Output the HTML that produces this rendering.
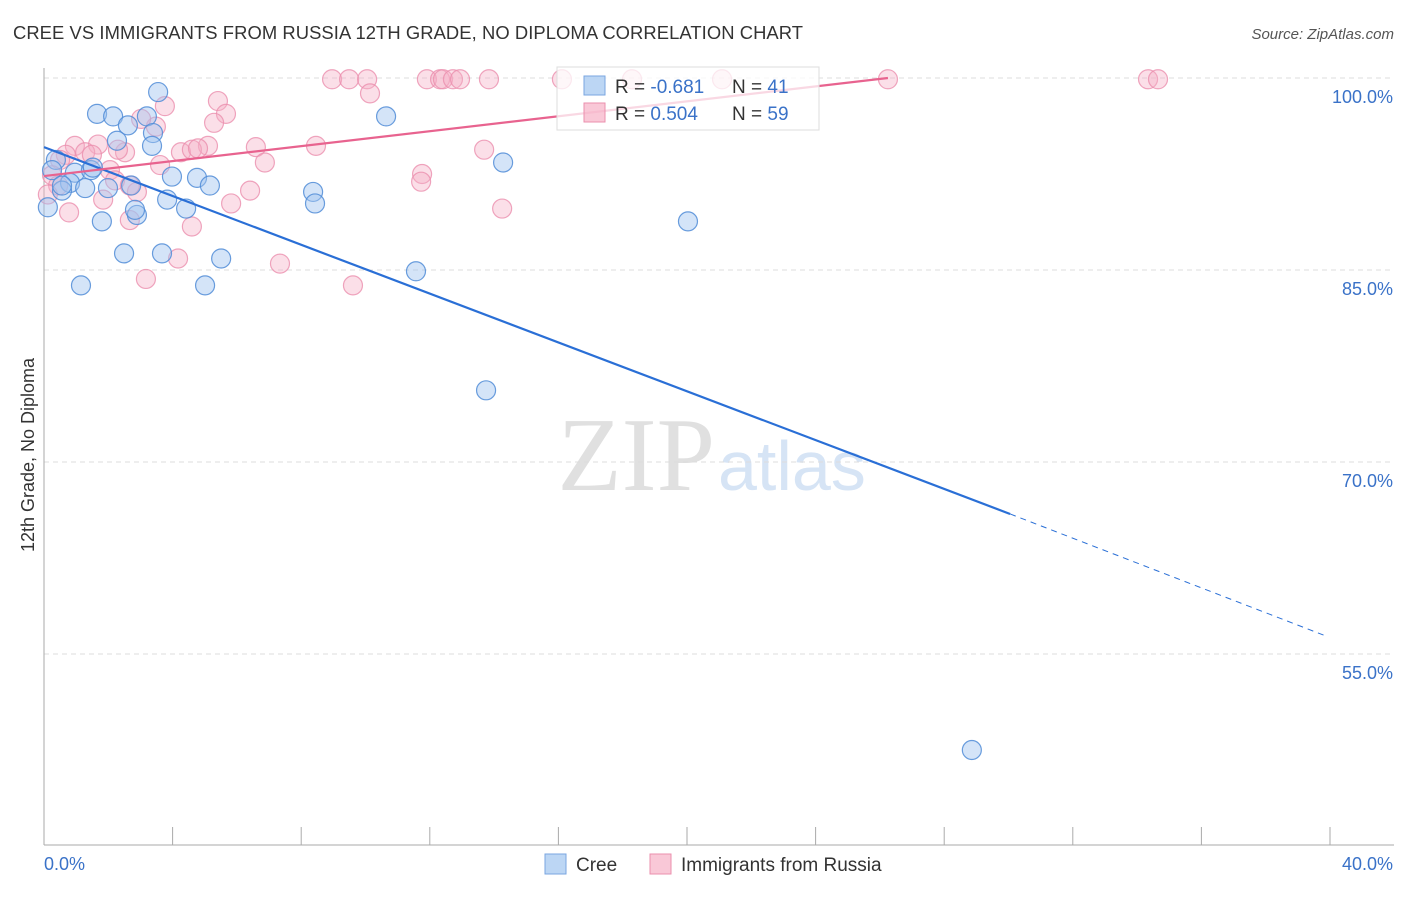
<!DOCTYPE html>
<html><head><meta charset="utf-8"><style>
body{margin:0;background:#fff;font-family:"Liberation Sans",sans-serif;}
</style></head><body>
<svg id="chart" width="1406" height="892" xmlns="http://www.w3.org/2000/svg" style="font-family:'Liberation Sans',sans-serif">
<text x="13" y="39" font-size="18.4" fill="#333" textLength="790">CREE VS IMMIGRANTS FROM RUSSIA 12TH GRADE, NO DIPLOMA CORRELATION CHART</text>
<text x="1394" y="39" font-size="15" fill="#555" text-anchor="end" font-style="italic">Source: ZipAtlas.com</text>
<g>
<text x="715" y="490" font-size="105" fill="#e0e0e0" text-anchor="end" style="font-family:'Liberation Serif',serif">ZIP</text>
<text x="718" y="490" font-size="70" fill="#d6e4f5">atlas</text>
</g>
<g id="grid"></g>
<g id="axes"></g>
<g id="marks"></g>
<g>
<rect x="557" y="67" width="262" height="63" fill="rgba(255,255,255,0.75)" stroke="#ddd"/>
<rect x="584" y="76" width="21" height="19" fill="rgba(160,196,240,0.7)" stroke="#7aa6e0"/>
<rect x="584" y="103" width="21" height="19" fill="rgba(246,176,198,0.7)" stroke="#eb8fae"/>
<text x="615" y="93" font-size="19" fill="#333">R = <tspan fill="#3a72c8">-0.681</tspan></text>
<text x="732" y="93" font-size="19" fill="#333">N = <tspan fill="#3a72c8"> 41</tspan></text>
<text x="615" y="120" font-size="19" fill="#333">R = <tspan fill="#3a72c8"> 0.504</tspan></text>
<text x="732" y="120" font-size="19" fill="#333">N = <tspan fill="#3a72c8">59</tspan></text>
</g>
<g>
<rect x="545" y="854" width="21" height="20" fill="rgba(160,196,240,0.7)" stroke="#7aa6e0"/>
<text x="576" y="871" font-size="19" fill="#333">Cree</text>
<rect x="650" y="854" width="21" height="20" fill="rgba(246,176,198,0.7)" stroke="#eb8fae"/>
<text x="681" y="871" font-size="19" fill="#333">Immigrants from Russia</text>
</g>
<text transform="translate(34,455) rotate(-90)" font-size="18" fill="#333" text-anchor="middle">12th Grade, No Diploma</text>
</svg>
<script>
const yTicks=[100,85,70,55];
const yTickLabels=["100.0%","85.0%","70.0%","55.0%"];
const xTicks=[0,4,8,12,16,20,24,28,32,36,40];
const creeX=[3.55,1.65,2.15,2.61,3.2,3.39,3.36,2.27,0.37,0.96,1.46,1.52,0.25,0.81,0.56,1.28,1.99,2.71,0.12,1.8,2.89,2.83,3.83,4.42,3.98,4.76,5.16,2.49,3.67,5.51,1.15,5.01,8.37,8.43,10.64,11.57,14.28,20.03,13.75,28.86,0.56];
const creeY=[98.9,97.2,97.0,96.3,97.0,95.7,94.7,95.1,93.6,92.6,92.8,93.0,92.8,91.8,91.2,91.4,91.4,91.6,89.9,88.8,89.3,89.7,90.5,89.8,92.3,92.2,91.6,86.3,86.3,85.9,83.8,83.8,91.1,90.2,97.0,84.9,93.4,88.8,75.6,47.5,91.6];
const rusX=[8.96,9.49,10.05,11.91,12.32,12.41,12.72,12.94,13.84,16.11,18.29,21.09,26.25,34.34,34.65,10.14,3.76,5.41,5.66,5.29,3.48,3.02,6.59,5.1,4.26,4.6,4.79,0.96,1.68,2.52,2.3,1.28,1.49,0.68,0.5,2.05,0.25,0.44,6.87,8.46,13.69,11.76,11.73,6.41,2.89,5.82,1.84,0.78,2.67,4.6,14.25,4.17,7.34,3.17,9.61,2.21,0.12,3.61,2.67];
const rusY=[99.9,99.9,99.9,99.9,99.9,99.9,99.9,99.9,99.9,99.9,99.9,99.9,99.9,99.9,99.9,98.8,97.8,98.2,97.2,96.5,96.2,96.8,94.6,94.7,94.2,94.4,94.5,94.7,94.8,94.2,94.4,94.2,94.0,94.0,93.6,92.8,92.4,91.6,93.4,94.7,94.4,92.5,91.9,91.2,91.1,90.2,90.5,89.5,88.9,88.4,89.8,85.9,85.5,84.3,83.8,92.0,90.9,93.2,91.6];
const creeTrend=[[0,94.6],[30.05,65.94],[39.88,56.4]];
const rusTrend=[[0,92.34],[26.25,100]];
const NS="http://www.w3.org/2000/svg";
const X=v=>44+v*32.15, Y=v=>78+(100-v)*12.8;
function mk(tag,at,parent){const e=document.createElementNS(NS,tag);for(const k in at)e.setAttribute(k,at[k]);document.getElementById(parent).appendChild(e);return e;}
yTicks.forEach((t,i)=>{
 const l=mk('line',{x1:44,x2:1394,y1:Y(t),y2:Y(t),stroke:'#ddd','stroke-dasharray':'5,4'},'grid');
 
 
 const tx=mk('text',{x:1393,y:Y(t)+25,'font-size':18,fill:'#3a72c8','text-anchor':'end'},'axes');
 tx.textContent=yTickLabels[i];
 
 
});
const ya=mk('line',{x1:44,x2:44,y1:68,y2:845,stroke:'#aaa'},'axes');


const xa=mk('line',{x1:44,x2:1394,y1:845,y2:845,stroke:'#aaa'},'axes');


xTicks.forEach(t=>{const l=mk('line',{x1:X(t),x2:X(t),y1:827,y2:845,stroke:'#aaa'},'axes');
 
 });
let t0=mk('text',{x:44,y:870,'font-size':18,fill:'#3a72c8'},'axes');t0.textContent='0.0%';


let t1=mk('text',{x:1393,y:870,'font-size':18,fill:'#3a72c8','text-anchor':'end'},'axes');t1.textContent='40.0%';


rusX.forEach((v,i)=>{const c=mk('circle',{cx:X(v),cy:Y(rusY[i]),r:9.5,fill:'rgba(246,176,198,0.4)',stroke:'rgba(235,143,174,0.8)','stroke-width':1.2},'marks');
 
 });
creeX.forEach((v,i)=>{const c=mk('circle',{cx:X(v),cy:Y(creeY[i]),r:9.5,fill:'rgba(160,196,240,0.45)',stroke:'rgba(80,140,215,0.85)','stroke-width':1.2},'marks');
 
 });
const ct1=mk('line',{x1:X(creeTrend[0][0]),y1:Y(creeTrend[0][1]),x2:X(creeTrend[1][0]),y2:Y(creeTrend[1][1]),stroke:'#2a6fd6','stroke-width':2.2},'marks');


const ct2=mk('line',{x1:X(creeTrend[1][0]),y1:Y(creeTrend[1][1]),x2:X(creeTrend[2][0]),y2:Y(creeTrend[2][1]),stroke:'#2a6fd6','stroke-width':1,'stroke-dasharray':'6,5'},'marks');


const rt=mk('line',{x1:X(rusTrend[0][0]),y1:Y(rusTrend[0][1]),x2:X(rusTrend[1][0]),y2:Y(rusTrend[1][1]),stroke:'#e8638f','stroke-width':2.2},'marks');


</script>
</body></html>
